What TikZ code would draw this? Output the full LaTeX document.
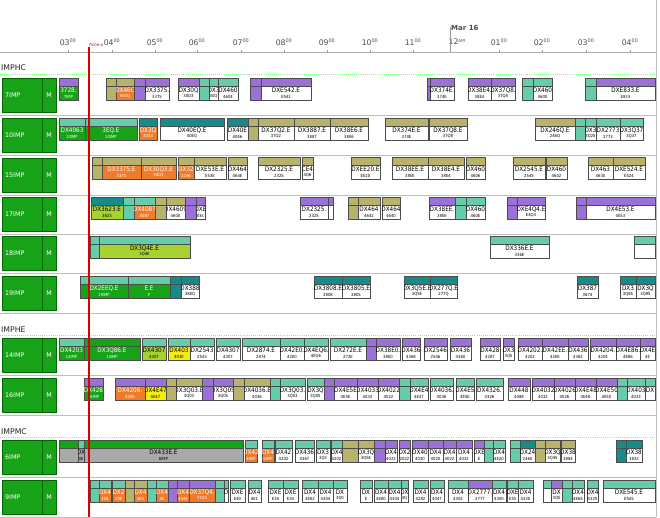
\documentclass[tikz,border=0pt]{standalone}
\usepackage{fontspec}
\setmainfont{DejaVu Sans}
\newfontfamily\condfont{DejaVu Sans Condensed}
\definecolor{purp}{HTML}{9B70D8}
\definecolor{olv}{HTML}{B9B26C}
\definecolor{mint}{HTML}{66CDA8}
\definecolor{teal}{HTML}{178B8B}
\definecolor{grn}{HTML}{17A317}
\definecolor{ora}{HTML}{EF7B2C}
\definecolor{lim}{HTML}{A8D232}
\definecolor{yel}{HTML}{F4EE10}
\definecolor{gry}{HTML}{A9A9A9}
\tikzset{
  cP/.style={fill=purp}, cO/.style={fill=olv}, cM/.style={fill=mint},
  cT/.style={fill=teal}, cG/.style={fill=grn},
  bW/.style={fill=white,text=black}, bOr/.style={fill=ora,text=white},
  bGr/.style={fill=grn,text=white}, bLi/.style={fill=lim,text=black},
  bYe/.style={fill=yel,text=black}, bGy/.style={fill=gry,text=black},
  jobline/.style={draw=black!70,line width=0.5pt},
  joblab/.style={font=\condfont\fontsize{9}{9}\selectfont,inner sep=0pt},
  jobsub/.style={font=\condfont\fontsize{6}{6}\selectfont,inner sep=0pt},
  rowhead/.style={draw=green!40!black,fill=grn,line width=0.6pt},
  grouplab/.style={font=\fontsize{11}{11}\selectfont,text=black!85,anchor=west,inner sep=0pt},
  hourlab/.style={font=\fontsize{11}{11}\selectfont,text=black!70,inner sep=0pt}
}
% one bar: y, x1, x2, top style, bottom style, label, sub label
\newcommand\job[7]{%
  \draw[jobline,#4] (#2,#1) rectangle (#3,#1+8);
  \draw[jobline,#5] (#2,#1+8) rectangle (#3,#1+22);
  \begin{scope}
    \clip (#2,#1+8) rectangle (#3,#1+22);
    \node[joblab,#5,fill=none] at ({(#2+#3)/2},#1+12.5) {#6};
    \node[jobsub,#5,fill=none] at ({(#2+#3)/2},#1+18.5) {#7};
  \end{scope}}
\newcommand\jobrow[2]{%
  \foreach \xa/\xb/\ct/\cb/\lab/\sub in {#2}{\job{#1}{\xa}{\xb}{\ct}{\cb}{\lab}{\sub}}}
% row header: y, name
\newcommand\machine[3]{%
  \draw[rowhead] (2,#1) rectangle (56,#1+34);
  \draw[green!40!black] (42,#1) -- (42,#1+34);
  \node[text=white,font=\fontsize{9}{9}\selectfont,anchor=west,inner sep=0pt] (#3) at (5,#1+17) {#2};
  \node[text=white,font=\fontsize{9}{9}\selectfont,inner sep=0pt] at (49,#1+17) {M};
  \draw[black!25,line width=1pt] (0,#1+37) -- (656,#1+37);}
\begin{document}
\begin{tikzpicture}[x=0.5mm,y=-0.5mm]
\useasboundingbox (0,0) rectangle (660,517);
\fill[white] (0,0) rectangle (660,517);
%time axis
\draw[black!30,line width=1pt] (0,52) -- (656,52);
\foreach \hx/\hh in {68/03,112/04,155/05,197/06,241/07,284/08,327/09,370/10,413/11,499/01,542/02,586/03,630/04}
  {%
    \draw[black!40] (\hx,50) -- (\hx,52);
    \node[hourlab] at (\hx,42) {\hh\textsuperscript{\fontsize{7}{7}\selectfont 00}};
  }
\node[hourlab] at (457,42) {12\textsuperscript{\fontsize{6}{6}\selectfont AM}};
\draw[black!40] (450,27) -- (450,52);
\node[hourlab,anchor=west,font=\bfseries\fontsize{10}{10}\selectfont] (mar) at (451,28) {Mar 16};
\draw[black!25] (656,0) -- (656,517);
%groups
\node[grouplab] (hc) at (1,68) {IMPHC};
\node[grouplab] (he) at (1,330) {IMPHE};
\node[grouplab] (mc) at (1,432) {IMPMC};
\foreach \gy in {74,335,437}
  \draw[green!55,dotted,line width=1pt] (0,\gy) -- (656,\gy);
%machines
\machine{78}{7IMP}{m7}
\machine{118}{10IMP}{m10}
\machine{158}{15IMP}{m15}
\machine{197}{17IMP}{m17}
\machine{236}{18IMP}{m18}
\machine{276}{19IMP}{m19}
\machine{338}{14IMP}{m14}
\machine{378}{16IMP}{m16}
\machine{440}{6IMP}{m6}
\machine{480}{9IMP}{m9}
%bars
\jobrow{78}{59/78/cP/bGr/3728./7IMP, 106/116/cO/cO/{}/{}, 116/134/cO/bOr/DX46C/460Q, 134/145/cP/cP/{}/{}, 145/169/cP/bW/DX3375./3375,
  178/199/cP/bW/DX30Q/30Q3, 199/209/cM/cM/{}/{}, 209/218/cM/bW/DX3/30Q, 218/238/cM/bW/DX460/4604,
  250/261/cP/cP/{}/{}, 261/311/cP/bW/DXE542.E/E542, 427/430/cP/cP/{}/{}, 430/454/cP/bW/DX374E./374E,
  468/491/cP/bW/DX38E4./38E4, 491/515/cP/bW/DX37Q8./37Q8, 522/533/cM/cM/{}/{}, 533/552/cM/bW/DX460/4600,
  585/596/cM/cM/{}/{}, 596/655/cP/bW/DXE833.E/E833}
\jobrow{118}{59/85/cM/bGr/DX4063/10IMP, 85/137/cM/bGr/3EQ.E/10IMP, 139/157/cT/bOr/DX3Q/3Q53, 160/224/cT/bW/DX40EQ.E/40EQ,
  227/248/cT/bW/DX40E/40E6, 248/258/cO/cO/{}/{}, 258/294/cO/bW/DX37Q2.E/37Q2, 294/330/cO/bW/DX3887.E/3887, 330/368/cO/bW/DX38E6.E/38E6,
  385/428/cO/bW/DX374E.E/374E, 429/467/cO/bW/DX37Q8.E/37Q8, 535/575/cO/bW/DX246Q.E/246Q, 575/585/cM/cM/{}/{},
  585/596/cM/bW/DX3/3Q25, 596/620/cM/bW/DX2773/2773, 620/643/cM/bW/DX3Q37/3Q37}
\jobrow{157}{92/102/cO/cO/{}/{}, 102/141/cO/bOr/DX3375.E/3375, 141/176/cO/bOr/DX30Q3.E/30Q3, 178/194/cO/bOr/DX32/3246,
  194/226/cO/bW/DXE53E.E/E53E, 228/247/cO/bW/DX464/464E, 258/300/cO/bW/DX2325.E/2325, 302/313/cO/bW/CE4/4Q6,
  351/380/cO/bW/DXEE20.E/EE20, 392/428/cO/bW/DX38EE.E/38EE, 428/464/cO/bW/DX38E4.E/38E4, 466/485/cO/bW/DX460/4606,
  513/545/cO/bW/DX2545.E/2545, 546/567/cO/bW/DX460/4602, 588/613/cO/bW/DX463/4630, 613/645/cO/bW/DXE524.E/E524}
\jobrow{197}{91/123/cT/bLi/DX3623.E/3623, 123/134/cM/cM/{}/{}, 134/155/cM/bOr/DX4087/4087, 155/166/cO/cO/{}/{},
  166/185/cO/bW/DX4609/4600, 185/196/cP/cP/{}/{}, 196/205/cP/bW/DXE/EEs, 300/328/cP/bW/DX2325./2325, 328/333/cP/bW/{}/{},
  348/358/cO/cO/{}/{}, 358/380/cO/bW/DX464/4642, 382/400/cO/bW/DX464/4640, 429/455/cP/bW/DX38EE./38EE, 455/466/cM/cM/{}/{},
  466/485/cM/bW/DX460/460E, 507/517/cP/cP/{}/{}, 517/545/cP/bW/DXE4Q4.E/E4Q4, 576/586/cP/cP/{}/{}, 586/655/cP/bW/DX4E53.E/4E53}
\jobrow{236}{90/99/cM/cM/{}/{}, 99/190/cM/bLi/DX3Q4E.E/3Q4E, 490/549/cM/bW/DX336E.E/336E, 634/655/cM/bW/{}/{}}
\jobrow{276}{80/128/cM/bGr/DX2EEQ.E/19IMP, 128/170/cM/bGr/E.E/P, 170/181/cT/cT/{}/{}, 181/199/cT/bW/DX388/388Q,
  314/342/cT/bW/DX3808.E/3808, 342/370/cT/bW/DX3805.E/3805, 404/430/cT/bW/DX3Q5E.E/3Q5E, 430/457/cT/bW/DX277Q.E/277Q,
  577/598/cT/bW/DX387/3874, 620/636/cT/bW/DX3/3Q85, 636/655/cT/bW/DX3Q/3Q85}
\jobrow{338}{59/84/cM/bGr/DX4203/14IMP, 84/140/cG/bGr/DX3Q86.E/14IMP, 142/166/cM/bLi/DX4307/4307, 168/190/cM/bYe/DX403/403E,
  190/214/cM/bW/DX2543/2543, 216/240/cM/bW/DX4307/4307, 242/280/cM/bW/DX2874.E/2874, 280/304/cM/bW/DX42E0./42E0,
  304/328/cM/bW/DX4EQ6./4EQ6, 330/366/cM/bW/DX272E.E/272E, 366/376/cP/cP/{}/{}, 376/400/cP/bW/DX38E0./38E0,
  402/420/cP/bW/DX436/4368, 424/447/cP/bW/DX2546/2546, 450/471/cP/bW/DX436/4360, 480/500/cP/bW/DX428/4287,
  503/514/cP/bW/DX3/3Q5, 518/542/cP/bW/DX4202./4202, 542/568/cP/bW/DX42EE./42EE, 568/588/cP/bW/DX436/4362,
  590/616/cP/bW/DX4204./4204, 616/640/cP/bW/DX4E86./4E86, 640/655/cP/bW/DX4E/4E}
\jobrow{378}{84/103/cP/bGr/DX428/16IMP, 115/145/cP/bOr/DX4206./4206, 145/166/cP/bYe/DX4E47/4E47, 166/176/cO/cO/{}/{},
  176/202/cO/bW/DX3Q03.E/3Q03, 202/213/cP/cP/{}/{}, 213/233/cP/bW/DX3Q05/3Q05, 233/244/cO/cO/{}/{}, 244/270/cO/bW/DX4036.E/4036,
  270/280/cM/cM/{}/{}, 280/305/cM/bW/DX3Q03./3Q03, 307/324/cM/bW/DX3Q/3Q05, 324/334/cP/cP/{}/{}, 334/357/cP/bW/DX4E5E/4E5E,
  357/378/cP/bW/DX4033/4033, 378/399/cP/bW/DX4022/4022, 399/410/cM/cM/{}/{}, 410/428/cM/bW/DX4E4/4E47,
  430/453/cM/bW/DX4036./4036, 456/474/cM/bW/DX4E5/4E5E, 476/503/cM/bW/DX4326./4326, 508/530/cP/bW/DX448/4488,
  532/554/cP/bW/DX4032/4032, 554/575/cP/bW/DX4026/4026, 575/596/cP/bW/DX4E48/4E48, 596/617/cP/bW/DX4E50/4E50,
  617/627/cM/cM/{}/{}, 627/645/cM/bW/DX403/4033, 645/655/cM/bW/DX/{}}
\jobrow{440}{59/78/cG/bGy/{}/{}, 78/84/cM/bGy/DX/4E, 84/243/cG/bGy/DX433E.E/6IMP, 245/257/cM/bOr/DX42/6IMP, 262/274/cM/bOr/DX4/6IMP,
  275/292/cM/bW/DX42/4202, 295/314/cM/bW/DX436/4367, 316/330/cM/bW/DX3/3Q3, 331/342/cM/bW/DX4/4202, 342/358/cO/cO/{}/{},
  358/374/cO/bW/DX3Q/3Q5E, 374/385/cP/cP/{}/{}, 385/397/cP/bW/DX4/4022, 399/410/cP/bW/DX2/2022, 412/428/cP/bW/DX40/4030,
  428/443/cP/bW/DX4/4020, 443/456/cP/bW/DX4/4022, 456/472/cP/bW/DX4/4032, 474/484/cP/bW/DXE/E, 484/493/cM/cM/{}/{},
  493/505/cM/bW/DX4/4E20, 510/520/cM/cM/{}/{}, 520/535/cT/bW/DX24/2460, 535/545/cO/cO/{}/{}, 545/560/cO/bW/DX3Q/3Q45,
  561/575/cO/bW/DX38/3884, 616/626/cT/cT/{}/{}, 626/642/cT/bW/DX38/3822}
\jobrow{480}{90/99/cM/cM/{}/{}, 99/111/cM/bOr/DX4/404, 112/125/cM/bOr/DX2/20E, 125/134/cO/cO/{}/{}, 134/147/cO/bOr/DX4/4E4,
  147/156/cM/cM/{}/{}, 156/168/cM/bOr/DX4/4E, 168/177/cP/cP/{}/{}, 177/189/cP/bOr/DX4/4444, 189/215/cP/bOr/DX37Q4./37Q4,
  215/224/cM/cM/{}/{}, 224/228/cM/bW/D/{}, 230/245/cM/bW/DXE/E40, 248/261/cM/bW/DX4/4E1, 268/283/cM/bW/DXE/E34,
  283/298/cM/bW/DXE/E34, 302/318/cM/bW/DX4/4E82, 318/333/cM/bW/DX4/4304, 333/347/cM/bW/DX/3Q0, 360/372/cM/bW/DX/E,
  374/388/cM/bW/DX4/4E80, 388/401/cM/bW/DX4/4304, 401/408/cM/bW/DX/3Q, 413/428/cM/bW/DX4/4282, 430/444/cM/bW/DX4/4047,
  448/468/cM/bW/DX4/4302, 468/492/cP/bW/DX2777./2777, 492/506/cM/bW/DX4/4300, 507/518/cM/bW/DXE/E34, 518/533/cM/bW/DX4/4320,
  543/551/cM/bW/{}/{}, 551/562/cP/bW/DX/3QE, 562/572/cM/cM/{}/{}, 572/584/cM/bW/DX4/4E68, 587/598/cM/bW/DX4/4320,
  603/655/cM/bW/DXE545.E/E545}
%time now
\draw[red!85!black,line width=1.5pt] (89,47) -- (89,517);
\node[text=red!80!black,font=\itshape\fontsize{6}{6}\selectfont,inner sep=0pt,anchor=west] (now) at (89,45) {fiche-o};
\end{tikzpicture}
\end{document}
